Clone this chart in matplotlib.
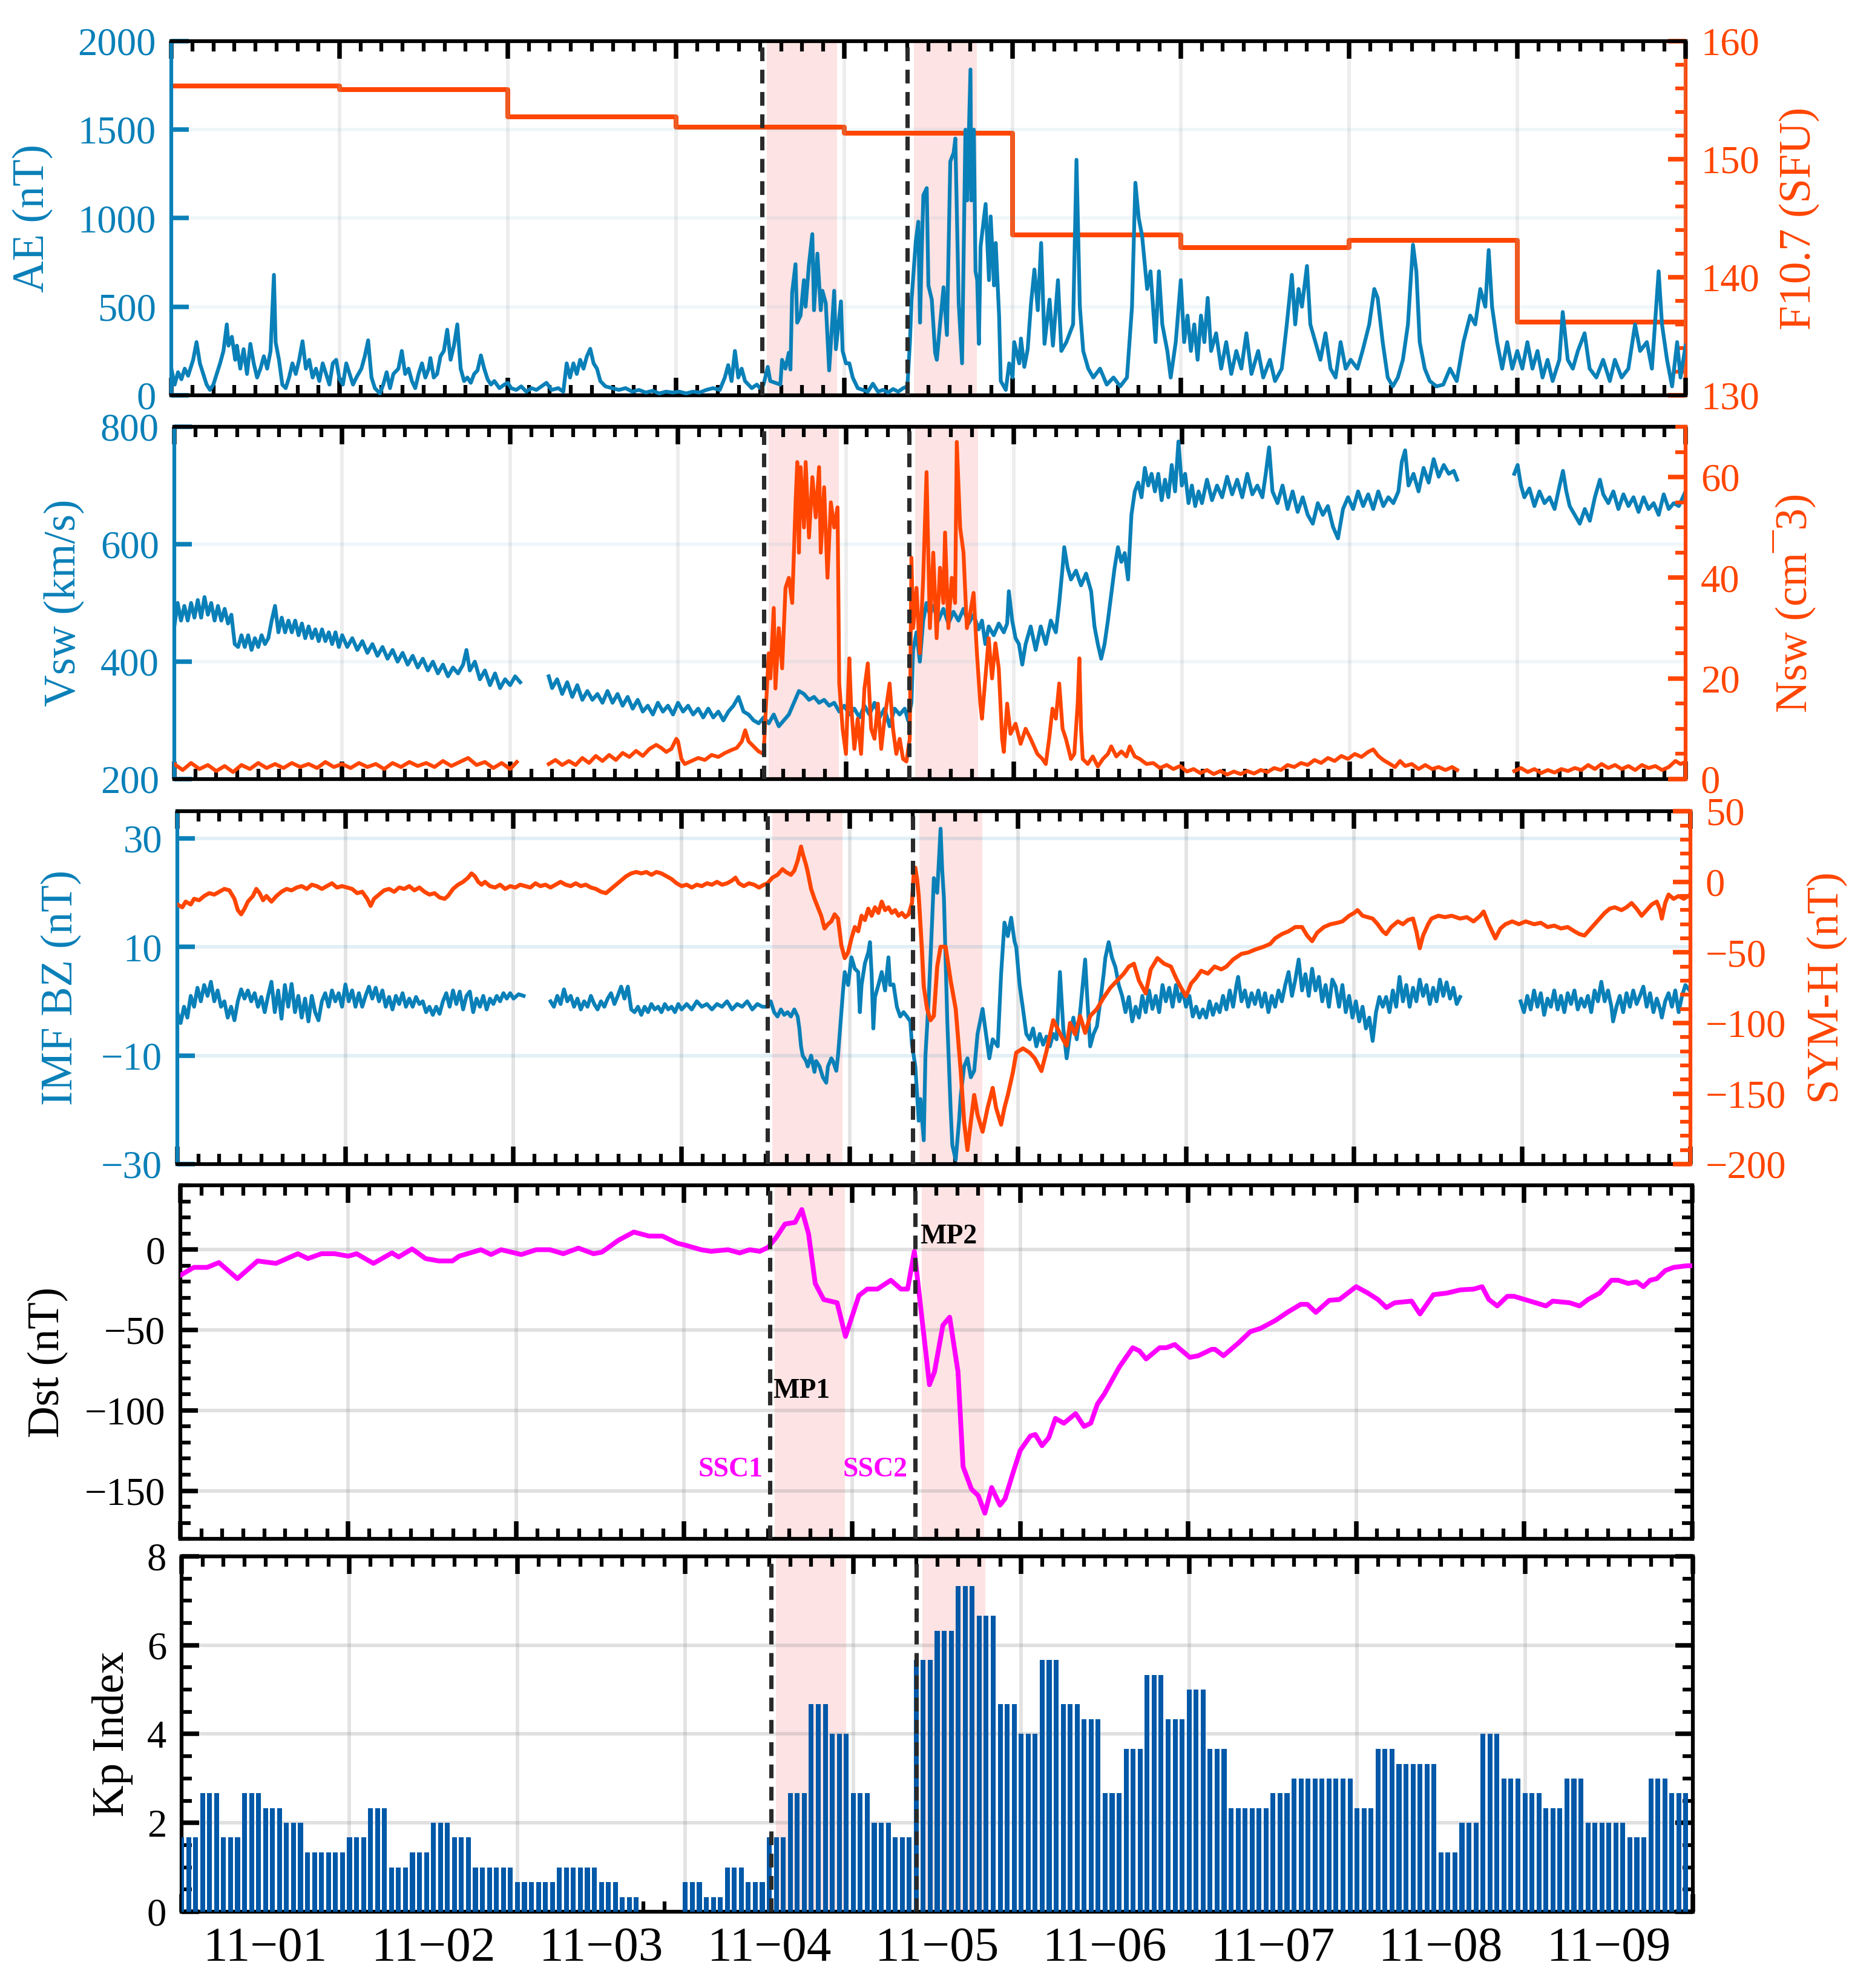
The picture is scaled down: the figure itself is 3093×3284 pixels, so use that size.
import numpy as np
import matplotlib
matplotlib.use('Agg')
import matplotlib.pyplot as plt
import matplotlib.dates as mdates
from matplotlib.ticker import MultipleLocator, FuncFormatter, NullFormatter
from datetime import datetime

NaN = np.nan

# ---------------- data (time in days since 2023-11-01 00:00 UT) ----------------
AE = [(0.00,150),(0.02,60),(0.04,130),(0.06,90),(0.08,150),(0.10,110),(0.13,200),(0.15,300),(0.17,180),
      (0.19,120),(0.21,60),(0.23,30),(0.25,60),(0.27,120),(0.29,180),(0.31,250),(0.33,400),(0.34,280),
      (0.36,330),(0.38,200),(0.39,280),(0.41,150),(0.43,260),(0.45,120),(0.47,290),(0.49,180),(0.51,100),
      (0.53,150),(0.55,220),(0.57,150),(0.59,250),(0.61,680),(0.62,300),(0.64,200),(0.66,60),(0.68,40),
      (0.70,100),(0.72,180),(0.74,120),(0.76,200),(0.78,305),(0.80,150),(0.82,200),(0.84,100),(0.86,150),
      (0.88,80),(0.90,180),(0.92,120),(0.94,60),(0.96,180),(0.98,200),(1.00,90),(1.02,60),(1.04,180),
      (1.06,120),(1.08,60),(1.10,100),(1.13,150),(1.15,220),(1.17,310),(1.19,100),(1.21,40),(1.24,10),
      (1.26,60),(1.28,130),(1.30,40),(1.32,120),(1.35,150),(1.37,250),(1.39,120),(1.41,150),(1.43,80),
      (1.45,40),(1.47,120),(1.49,180),(1.51,100),(1.53,150),(1.54,210),(1.56,100),(1.58,120),(1.60,220),
      (1.62,250),(1.64,370),(1.66,200),(1.68,280),(1.70,400),(1.72,150),(1.74,80),(1.76,100),(1.78,70),
      (1.80,120),(1.82,140),(1.84,225),(1.86,150),(1.88,90),(1.90,60),(1.92,80),(1.95,40),(1.98,60),
      (2.00,70),(2.02,40),(2.05,30),(2.08,50),(2.11,20),(2.14,40),(2.17,30),(2.20,50),(2.23,70),(2.26,30),
      (2.30,40),(2.33,20),(2.35,180),(2.37,100),(2.39,180),(2.41,120),(2.43,200),(2.45,150),(2.47,220),
      (2.49,262),(2.51,180),(2.53,150),(2.55,80),(2.58,50),(2.62,40),(2.66,30),(2.70,40),(2.74,20),
      (2.78,30),(2.82,15),(2.86,25),(2.90,10),(2.94,20),(2.98,15),(3.02,20),(3.06,10),(3.10,20),(3.14,15),
      (3.18,30),(3.22,40),(3.26,30),(3.29,100),(3.31,170),(3.33,80),(3.35,250),(3.37,100),(3.39,150),
      (3.41,80),(3.43,60),(3.45,40),(3.48,60),(3.50,40),(3.52,60),(3.545,160),(3.56,80),(3.59,70),
      (3.62,60),(3.63,200),(3.65,150),(3.67,240),(3.68,145),(3.69,580),(3.71,740),(3.72,410),(3.74,450),
      (3.76,650),(3.77,500),(3.79,740),(3.81,910),(3.82,480),(3.84,800),(3.86,480),(3.87,590),(3.89,520),
      (3.91,140),(3.94,590),(3.95,260),(3.98,530),(3.99,250),(4.01,180),(4.03,180),(4.05,100),(4.08,40),
      (4.11,30),(4.14,20),(4.17,65),(4.20,20),(4.23,30),(4.26,15),(4.29,35),(4.32,20),(4.35,40),
      (4.375,50),(4.39,300),(4.40,540),(4.425,870),(4.44,980),(4.45,410),(4.46,800),(4.47,1130),
      (4.49,1170),(4.50,620),(4.52,540),(4.54,240),(4.55,200),(4.57,410),(4.59,610),(4.61,340),
      (4.63,1320),(4.65,1370),(4.66,1450),(4.68,520),(4.70,180),(4.72,1500),(4.73,1100),(4.75,1840),
      (4.755,1100),(4.77,1500),(4.78,700),(4.79,650),(4.80,290),(4.81,840),(4.84,1080),(4.86,650),
      (4.87,1010),(4.89,620),(4.90,860),(4.92,450),(4.93,80),(4.96,30),(4.98,180),(5.00,100),(5.01,300),
      (5.04,180),(5.05,320),(5.07,160),(5.09,260),(5.11,520),(5.13,710),(5.15,480),(5.17,860),(5.19,290),
      (5.22,540),(5.24,280),(5.27,650),(5.29,250),(5.32,300),(5.36,400),(5.38,1330),(5.40,500),(5.42,250),
      (5.45,150),(5.48,100),(5.52,150),(5.56,60),(5.60,100),(5.64,50),(5.68,100),(5.71,500),(5.73,1200),
      (5.75,1000),(5.77,900),(5.80,600),(5.82,700),(5.85,300),(5.87,700),(5.89,400),(5.92,250),(5.94,100),
      (5.97,300),(6.00,650),(6.02,300),(6.04,450),(6.06,250),(6.08,400),(6.10,200),(6.12,450),(6.14,300),
      (6.16,550),(6.18,250),(6.21,350),(6.24,150),(6.27,300),(6.30,120),(6.33,250),(6.36,150),(6.39,350),
      (6.42,120),(6.46,250),(6.49,100),(6.53,200),(6.56,80),(6.60,150),(6.63,400),(6.66,680),(6.68,400),
      (6.70,600),(6.72,500),(6.75,730),(6.77,400),(6.80,300),(6.83,200),(6.86,350),(6.89,150),(6.92,100),
      (6.95,300),(6.98,150),(7.01,200),(7.05,150),(7.08,250),(7.12,400),(7.15,600),(7.17,550),(7.20,300),
      (7.23,100),(7.26,50),(7.29,100),(7.32,200),(7.35,400),(7.38,850),(7.40,700),(7.42,300),(7.45,150),
      (7.48,80),(7.52,50),(7.56,60),(7.60,150),(7.64,80),(7.68,300),(7.72,450),(7.75,400),(7.78,600),
      (7.81,500),(7.83,820),(7.85,500),(7.88,300),(7.91,150),(7.94,300),(7.97,150),(8.00,250),(8.03,150),
      (8.06,300),(8.09,150),(8.12,250),(8.15,100),(8.18,200),(8.21,80),(8.25,200),(8.27,470),(8.30,200),
      (8.33,150),(8.36,250),(8.40,350),(8.43,150),(8.47,100),(8.51,200),(8.55,80),(8.58,200),(8.62,100),
      (8.66,150),(8.70,400),(8.73,250),(8.77,300),(8.80,150),(8.84,700),(8.86,400),(8.89,200),(8.92,50),
      (8.95,300),(8.97,100),(9.00,280)]

F107_day = [0, 1, 2, 3, 4, 5, 6, 7, 8, 9]
F107_sfu = [156.2, 155.9, 153.6, 152.7, 152.2, 143.6, 142.5, 143.1, 136.2, 136.2]

VSW = [(0.00,460),(0.02,500),(0.04,470),(0.06,495),(0.08,470),(0.10,500),(0.12,475),(0.14,505),(0.16,475),
       (0.18,510),(0.20,480),(0.22,500),(0.24,470),(0.26,495),(0.28,470),(0.30,490),(0.32,465),(0.34,480),
       (0.36,430),(0.38,425),(0.40,445),(0.42,425),(0.44,445),(0.46,420),(0.48,440),(0.50,425),(0.52,445),
       (0.54,430),(0.56,440),(0.58,470),(0.60,495),(0.62,450),(0.64,475),(0.66,450),(0.68,470),(0.70,450),
       (0.72,470),(0.74,445),(0.76,465),(0.78,440),(0.80,460),(0.82,440),(0.84,455),(0.86,435),(0.88,455),
       (0.90,435),(0.92,450),(0.94,430),(0.96,450),(0.98,425),(1.00,445),(1.03,425),(1.06,440),(1.09,420),
       (1.12,435),(1.15,415),(1.18,430),(1.21,410),(1.24,425),(1.27,405),(1.30,420),(1.33,400),(1.36,415),
       (1.39,395),(1.42,410),(1.45,390),(1.48,405),(1.51,385),(1.54,400),(1.57,380),(1.60,395),(1.63,375),
       (1.66,390),(1.69,380),(1.72,395),(1.74,420),(1.76,385),(1.79,400),(1.82,370),(1.85,385),(1.88,360),
       (1.91,380),(1.94,355),(1.97,370),(2.00,360),(2.03,375),(2.06,365),(2.07,NaN),(2.23,375),(2.25,355),
       (2.28,370),(2.31,345),(2.34,365),(2.37,340),(2.40,360),(2.43,335),(2.46,350),(2.49,335),(2.52,345),
       (2.55,330),(2.58,350),(2.61,330),(2.64,345),(2.67,325),(2.70,340),(2.73,320),(2.76,335),(2.79,315),
       (2.82,325),(2.85,310),(2.88,330),(2.91,315),(2.94,325),(2.97,310),(3.00,330),(3.03,315),(3.06,325),
       (3.09,310),(3.12,320),(3.15,305),(3.18,320),(3.21,305),(3.24,315),(3.27,300),(3.30,315),(3.33,325),
       (3.36,340),(3.39,315),(3.42,310),(3.45,300),(3.48,295),(3.51,305),(3.54,295),(3.57,310),(3.60,290),
       (3.63,300),(3.66,310),(3.69,330),(3.72,350),(3.75,345),(3.78,335),(3.81,340),(3.84,330),(3.87,335),
       (3.90,325),(3.93,330),(3.96,315),(3.99,325),(4.02,310),(4.05,320),(4.08,305),(4.11,325),(4.14,310),
       (4.17,330),(4.20,305),(4.23,320),(4.26,290),(4.29,320),(4.32,310),(4.35,320),(4.37,300),(4.39,330),
       (4.40,420),(4.42,450),(4.44,400),(4.46,470),(4.48,500),(4.50,480),(4.52,495),(4.55,470),(4.58,490),
       (4.61,465),(4.64,485),(4.67,470),(4.70,490),(4.73,465),(4.76,480),(4.79,455),(4.81,470),(4.83,430),
       (4.85,460),(4.88,445),(4.91,465),(4.94,450),(4.96,465),(4.97,520),(4.99,470),(5.01,440),(5.03,430),
       (5.05,395),(5.07,430),(5.10,460),(5.13,420),(5.16,460),(5.19,430),(5.22,470),(5.25,450),(5.27,500),
       (5.29,560),(5.30,595),(5.32,560),(5.34,540),(5.37,555),(5.40,530),(5.43,550),(5.46,520),(5.48,460),
       (5.50,430),(5.52,405),(5.54,430),(5.56,470),(5.58,515),(5.60,560),(5.62,595),(5.64,570),(5.66,585),
       (5.68,540),(5.70,650),(5.72,690),(5.74,705),(5.76,680),(5.78,730),(5.80,700),(5.82,720),(5.84,690),
       (5.86,720),(5.88,675),(5.90,710),(5.92,680),(5.94,735),(5.96,690),(5.98,775),(6.00,700),(6.02,720),
       (6.04,670),(6.06,700),(6.08,665),(6.10,690),(6.12,670),(6.15,710),(6.18,675),(6.21,700),(6.24,680),
       (6.27,715),(6.30,685),(6.33,710),(6.36,680),(6.39,720),(6.42,685),(6.45,700),(6.48,680),(6.50,720),
       (6.52,765),(6.54,690),(6.57,670),(6.60,700),(6.63,660),(6.66,690),(6.69,655),(6.72,680),(6.75,650),
       (6.78,635),(6.81,670),(6.84,650),(6.87,665),(6.90,630),(6.93,610),(6.96,660),(6.99,680),(7.02,660),
       (7.05,690),(7.08,665),(7.11,685),(7.14,660),(7.17,690),(7.20,665),(7.23,680),(7.26,670),(7.29,690),
       (7.31,740),(7.33,760),(7.35,700),(7.38,720),(7.41,690),(7.44,730),(7.47,705),(7.50,745),(7.53,715),
       (7.56,735),(7.59,720),(7.62,725),(7.64,710),(7.65,NaN),(7.98,720),(8.00,735),(8.02,700),(8.04,680),
       (8.07,695),(8.10,665),(8.13,690),(8.16,670),(8.19,680),(8.22,660),(8.25,700),(8.27,725),(8.29,690),
       (8.31,665),(8.34,650),(8.37,635),(8.40,660),(8.43,640),(8.46,680),(8.49,710),(8.51,685),(8.54,670),
       (8.57,690),(8.60,660),(8.63,685),(8.66,665),(8.69,680),(8.72,655),(8.75,680),(8.78,660),(8.81,670),
       (8.84,650),(8.87,685),(8.90,660),(8.93,670),(8.96,665),(9.00,690)]

NSW = [(0.00,3.0),(0.05,1.8),(0.10,3.2),(0.15,2.0),(0.20,2.8),(0.25,1.6),(0.30,2.6),(0.35,1.4),(0.40,2.8),
       (0.45,2.0),(0.50,3.2),(0.55,2.2),(0.60,3.0),(0.65,2.2),(0.70,3.2),(0.75,2.4),(0.80,3.0),(0.85,2.2),
       (0.90,3.4),(0.95,2.4),(1.00,3.0),(1.05,2.2),(1.10,3.2),(1.15,2.4),(1.20,3.0),(1.25,2.0),(1.30,3.2),
       (1.35,2.4),(1.40,3.4),(1.45,2.6),(1.50,3.2),(1.55,2.4),(1.60,3.6),(1.65,2.6),(1.70,3.4),(1.75,4.2),
       (1.80,2.8),(1.85,3.4),(1.90,2.2),(1.95,3.2),(2.00,2.0),(2.04,3.4),(2.07,NaN),(2.23,3.0),(2.27,3.8),
       (2.31,2.8),(2.35,3.6),(2.39,2.8),(2.43,4.2),(2.47,3.2),(2.51,4.6),(2.55,3.6),(2.59,4.8),(2.63,3.8),
       (2.67,5.2),(2.71,4.4),(2.75,5.6),(2.79,4.6),(2.83,6.0),(2.87,6.8),(2.90,6.2),(2.93,5.4),(2.96,6.0),
       (2.99,8.0),(3.00,7.5),(3.02,4.0),(3.04,3.0),(3.08,3.6),(3.12,4.2),(3.16,3.8),(3.20,4.8),(3.24,4.4),
       (3.28,5.2),(3.32,5.8),(3.35,6.2),(3.38,7.5),(3.40,9.7),(3.42,7.5),(3.45,6.5),(3.48,5.5),(3.51,5.0),
       (3.52,12),(3.54,25),(3.55,20),(3.57,34),(3.58,18),(3.60,30),(3.62,22),(3.64,38),(3.66,40),(3.68,35),
       (3.70,55),(3.71,63),(3.72,45),(3.73,62),(3.75,50),(3.76,63),(3.78,48),(3.80,60),(3.82,52),(3.84,62),
       (3.85,45),(3.87,58),(3.89,40),(3.91,55),(3.93,50),(3.95,54),(3.96,19),(3.98,10),(4.00,5),(4.02,24),
       (4.03,15),(4.05,6),(4.07,12),(4.09,5),(4.11,18),(4.13,23),(4.15,10),(4.17,8),(4.19,15),(4.21,6),
       (4.23,12),(4.26,19),(4.28,10),(4.30,5),(4.32,8),(4.34,4),(4.36,3.5),(4.38,8),(4.39,44),(4.40,30),
       (4.42,38),(4.44,25),(4.46,40),(4.48,61),(4.50,30),(4.52,45),(4.54,28),(4.56,42),(4.58,35),(4.59,49),
       (4.61,30),(4.63,40),(4.65,35),(4.66,67),(4.68,50),(4.70,45),(4.72,30),(4.74,33),(4.76,37),(4.78,25),
       (4.80,15),(4.81,12),(4.83,20),(4.85,28),(4.87,20),(4.89,27),(4.91,22),(4.93,8),(4.94,5.4),(4.96,15),
       (4.98,9),(5.01,11),(5.04,7),(5.07,10),(5.10,8),(5.14,5),(5.17,4),(5.19,3),(5.21,8),(5.23,14),
       (5.25,12),(5.27,19),(5.29,10),(5.31,8),(5.34,4),(5.36,5),(5.38,15),(5.39,24),(5.40,10),(5.41,4),
       (5.44,3),(5.47,4.5),(5.50,2.5),(5.53,4),(5.56,5),(5.58,6.5),(5.61,4.5),(5.64,5.5),(5.67,4.5),
       (5.69,6.5),(5.72,4.5),(5.75,4.0),(5.79,3.0),(5.83,3.2),(5.87,2.2),(5.91,2.8),(5.95,2.0),(5.99,2.6),
       (6.03,1.5),(6.07,2.0),(6.11,1.2),(6.15,1.8),(6.19,1.0),(6.23,1.6),(6.27,0.9),(6.31,1.5),(6.35,1.0),
       (6.39,1.6),(6.43,1.1),(6.47,1.8),(6.51,1.4),(6.55,2.2),(6.59,1.8),(6.63,2.8),(6.67,2.4),(6.71,3.2),
       (6.75,2.8),(6.79,3.8),(6.83,3.2),(6.87,4.2),(6.91,3.6),(6.95,4.6),(6.99,4.0),(7.03,5.0),(7.07,4.4),
       (7.11,5.4),(7.14,5.9),(7.17,4.6),(7.20,3.8),(7.24,3.0),(7.27,2.4),(7.30,3.6),(7.33,2.6),(7.37,3.0),
       (7.41,2.0),(7.45,2.8),(7.49,2.0),(7.53,2.4),(7.57,1.8),(7.61,2.4),(7.64,1.8),(7.65,NaN),(7.98,1.6),
       (8.02,2.2),(8.06,1.4),(8.10,2.0),(8.14,1.2),(8.18,1.8),(8.22,1.3),(8.26,2.0),(8.30,1.6),(8.34,2.2),
       (8.38,1.8),(8.42,2.8),(8.46,2.0),(8.50,3.0),(8.54,2.2),(8.58,2.8),(8.62,2.0),(8.66,2.6),(8.70,1.8),
       (8.74,2.8),(8.78,2.2),(8.82,2.6),(8.86,1.8),(8.90,2.4),(8.94,3.6),(8.97,3.0),(9.00,3.4)]

BZ = [(0.00,-2),(0.02,-4),(0.04,-1),(0.06,-3),(0.08,1),(0.10,-1),(0.12,2.5),(0.14,0),(0.16,3),(0.18,1),
      (0.20,3.6),(0.22,0),(0.24,2),(0.26,-1),(0.28,0),(0.30,-3),(0.32,-1),(0.34,-3.5),(0.36,0),(0.38,2.2),
      (0.40,0.5),(0.42,2),(0.44,0),(0.46,1.5),(0.48,-1),(0.50,0.8),(0.52,-2),(0.54,1),(0.56,3.6),(0.58,-2),
      (0.60,2),(0.62,-3.2),(0.64,3),(0.66,-1),(0.68,3.2),(0.70,-2),(0.72,1),(0.74,-3),(0.76,0.5),(0.78,-3.7),
      (0.80,1),(0.82,-2),(0.84,-3.5),(0.86,0),(0.88,1.5),(0.90,-1),(0.92,2),(0.94,0),(0.96,1.5),(0.98,-1),
      (1.00,3.1),(1.02,0),(1.04,2),(1.06,-1),(1.08,1.5),(1.10,-1),(1.12,1),(1.14,2.7),(1.16,0.5),(1.18,2.5),
      (1.20,0),(1.22,2),(1.24,-1),(1.26,0.8),(1.28,-1.5),(1.30,1),(1.32,-0.5),(1.34,1.5),(1.36,-1),(1.38,0.5),
      (1.40,-1),(1.42,0.8),(1.44,-0.5),(1.46,0),(1.48,-2),(1.50,-1),(1.52,-2.5),(1.54,-1),(1.56,-2.3),
      (1.58,0),(1.60,1.5),(1.62,-1),(1.64,2),(1.66,-0.5),(1.68,1.8),(1.70,-1.5),(1.72,1),(1.74,1.8),
      (1.76,-2),(1.78,0.5),(1.80,-1),(1.82,1),(1.84,-1.5),(1.86,0.5),(1.88,-0.5),(1.90,1),(1.92,0),
      (1.94,1.5),(1.96,0.5),(1.98,1.5),(2.00,0.5),(2.03,1.3),(2.06,1.0),(2.07,NaN),(2.22,0),(2.24,-1),
      (2.26,1),(2.28,-0.5),(2.30,2.2),(2.32,0),(2.34,1),(2.36,-1),(2.38,0.5),(2.40,-1.5),(2.42,0),(2.44,-1),
      (2.46,1),(2.48,-0.5),(2.50,-1.5),(2.52,0),(2.54,-1),(2.56,0.5),(2.58,1.5),(2.60,-0.5),(2.62,1),
      (2.64,2.7),(2.66,0.5),(2.68,2.7),(2.70,-1.5),(2.72,-2),(2.74,-1),(2.76,-2.5),(2.78,-1),(2.80,-2),
      (2.82,-0.5),(2.84,-1.5),(2.86,-1),(2.88,-2),(2.90,-0.5),(2.92,-1.5),(2.94,-1),(2.96,-2),(2.98,-0.5),
      (3.00,-1.5),(3.03,-0.5),(3.06,-1.5),(3.09,0),(3.12,-1),(3.15,-0.5),(3.18,-1.5),(3.21,-0.5),(3.24,-1),
      (3.27,0),(3.30,-1.5),(3.33,-0.5),(3.36,-1),(3.39,0),(3.42,-1.5),(3.45,-0.5),(3.48,-1),(3.51,-1),
      (3.53,0),(3.55,-2),(3.57,-2.8),(3.59,-1.5),(3.61,-2.5),(3.63,-2),(3.65,-2.8),(3.67,-1.5),(3.69,-2.8),
      (3.70,-5),(3.71,-8.3),(3.72,-10),(3.74,-11),(3.75,-12),(3.77,-10),(3.79,-13),(3.80,-11),(3.82,-12),
      (3.84,-14),(3.86,-15),(3.87,-12),(3.89,-10.5),(3.90,-11),(3.92,-12.8),(3.93,-10),(3.94,-6),(3.96,2),
      (3.97,5.4),(3.99,3),(4.01,8.1),(4.03,6),(4.05,5.4),(4.06,-2),(4.07,3),(4.09,7),(4.11,9),(4.12,10.9),
      (4.13,5),(4.14,-5),(4.15,0.8),(4.17,3),(4.19,5.4),(4.21,2),(4.23,8.1),(4.24,3),(4.26,3.1),(4.28,-1),
      (4.30,-2.8),(4.32,-2),(4.34,-2.8),(4.36,-3.7),(4.37,-8),(4.39,-12),(4.41,-22),(4.42,-18),(4.44,-25.6),
      (4.45,-10),(4.47,0.8),(4.49,15),(4.50,22.7),(4.52,20),(4.54,31.8),(4.55,24),(4.56,19),(4.58,-3.7),
      (4.60,-20),(4.61,-26.5),(4.63,-29.2),(4.65,-22),(4.66,-17.4),(4.68,-12),(4.70,-10.5),(4.72,-14),
      (4.74,-12.8),(4.76,-6),(4.79,-1.4),(4.81,-6),(4.83,-10.5),(4.85,-7),(4.88,-8.3),(4.90,5),(4.92,14.5),
      (4.94,12),(4.96,15.4),(4.98,11),(4.99,10),(5.01,3),(5.03,-1.4),(5.05,-6),(5.07,-7),(5.09,-5),
      (5.11,-8.3),(5.13,-6),(5.15,-8),(5.17,-6.5),(5.19,-8.3),(5.21,-6),(5.23,-7),(5.25,5.4),(5.27,-5),
      (5.29,-10.5),(5.31,-6),(5.33,-3),(5.35,-7),(5.37,-2),(5.40,7.7),(5.41,2),(5.43,-8.3),(5.45,-6),
      (5.47,-4.6),(5.49,0),(5.51,5),(5.52,8),(5.54,10.9),(5.56,8),(5.58,6.3),(5.60,3),(5.62,1),(5.64,-2),
      (5.66,0.8),(5.68,-3.7),(5.70,-1),(5.72,-3),(5.74,1),(5.76,-2),(5.78,2),(5.80,-1.4),(5.82,1),(5.84,-2),
      (5.86,3),(5.88,0),(5.90,2.5),(5.92,-1),(5.94,3),(5.96,0),(5.98,2),(6.00,-1),(6.02,1),(6.04,-2.8),
      (6.06,-1),(6.08,-3),(6.10,-1.5),(6.12,-3),(6.14,0),(6.16,-2.5),(6.18,-0.5),(6.20,-2),(6.22,1),
      (6.24,-1.5),(6.26,2),(6.28,-1),(6.30,3),(6.31,4.5),(6.33,0),(6.35,2),(6.37,-1),(6.39,1.5),(6.41,-0.5),
      (6.43,2),(6.45,-1),(6.47,1.5),(6.49,-2),(6.51,1),(6.53,-1),(6.55,2),(6.57,0),(6.59,3),(6.61,5.4),
      (6.63,1),(6.65,4),(6.67,7.7),(6.69,2),(6.71,5),(6.73,1),(6.75,6),(6.77,2),(6.79,4.5),(6.81,0),
      (6.83,3),(6.85,-1),(6.87,4),(6.89,2.7),(6.91,-1),(6.93,3),(6.95,-2),(6.97,1),(6.99,-3),(7.01,0),
      (7.03,-3.7),(7.05,-1),(7.07,-5),(7.09,-3),(7.11,-7.3),(7.13,-2),(7.15,0.8),(7.17,-1),(7.19,0.8),
      (7.21,-2),(7.23,2),(7.25,-1),(7.27,4.5),(7.29,0),(7.31,3),(7.33,-1),(7.35,2.5),(7.37,0),(7.39,4),
      (7.41,1),(7.43,3),(7.45,-0.5),(7.47,2.5),(7.49,0),(7.51,4),(7.53,1),(7.55,3.5),(7.57,0.5),(7.59,2.5),
      (7.61,-0.5),(7.63,0.8),(7.64,NaN),(7.99,0),(8.01,-2),(8.03,1),(8.05,-1.5),(8.07,2),(8.09,-1),
      (8.11,1.5),(8.13,-2.5),(8.15,0.5),(8.17,-1),(8.19,2),(8.21,-1.5),(8.23,1),(8.25,-2),(8.27,1.5),
      (8.29,-0.5),(8.31,2),(8.33,-1.5),(8.35,0.5),(8.37,-1),(8.39,1),(8.41,-2),(8.43,2),(8.45,0),(8.47,3.6),
      (8.49,0),(8.51,2),(8.53,-1),(8.54,-3.7),(8.56,-1),(8.58,1),(8.60,-2),(8.62,1.5),(8.64,-1),(8.66,2),
      (8.68,-0.5),(8.70,1),(8.72,2.7),(8.74,-1),(8.76,1.5),(8.78,-2),(8.80,0.5),(8.82,-1.5),(8.83,-3),
      (8.85,0),(8.87,1.5),(8.89,-1),(8.91,2),(8.93,-2),(8.95,1),(8.97,3),(9.00,1.8)]

SYMH = [(0.00,-16),(0.03,-18),(0.05,-14),(0.08,-16),(0.10,-12),(0.13,-13),(0.16,-10),(0.19,-8),(0.22,-9),
        (0.25,-7),(0.28,-5),(0.31,-6),(0.34,-12),(0.36,-20),(0.38,-23),(0.40,-19),(0.42,-14),(0.45,-10),
        (0.47,-5),(0.49,-8),(0.51,-13),(0.53,-10),(0.56,-14),(0.59,-10),(0.62,-7),(0.65,-5),(0.68,-6),
        (0.71,-4),(0.74,-3),(0.77,-5),(0.80,-2),(0.83,-3),(0.86,-5),(0.89,-3),(0.92,-1),(0.95,-4),(0.98,-3),
        (1.01,-4),(1.04,-5),(1.07,-8),(1.10,-7),(1.13,-12),(1.15,-17),(1.17,-12),(1.20,-9),(1.23,-6),
        (1.26,-5),(1.29,-7),(1.32,-4),(1.35,-5),(1.38,-3),(1.41,-6),(1.44,-4),(1.47,-7),(1.50,-9),(1.53,-8),
        (1.56,-11),(1.59,-12),(1.61,-10),(1.64,-5),(1.67,-2),(1.70,0),(1.73,3),(1.75,6),(1.77,4),(1.79,0),
        (1.81,-2),(1.83,0),(1.86,-3),(1.89,-4),(1.92,-2),(1.95,-5),(1.98,-3),(2.01,-4),(2.04,-2),(2.07,-3),
        (2.10,-4),(2.13,-1),(2.16,-3),(2.19,-2),(2.22,-4),(2.25,-2),(2.28,0),(2.31,-2),(2.34,-3),(2.37,-1),
        (2.40,-3),(2.43,-2),(2.46,-4),(2.49,-5),(2.52,-7),(2.55,-8),(2.58,-5),(2.61,-2),(2.64,1),(2.67,4),
        (2.70,6),(2.73,7),(2.76,6),(2.79,7),(2.82,5),(2.85,7),(2.88,6),(2.91,4),(2.94,2),(2.97,-1),(3.00,-3),
        (3.03,-2),(3.06,-4),(3.09,-2),(3.12,-3),(3.15,-1),(3.18,-2),(3.21,0),(3.24,-2),(3.27,-1),(3.30,1),
        (3.32,3),(3.34,-1),(3.37,-3),(3.40,-1),(3.43,-2),(3.46,-4),(3.49,-2),(3.51,-1),(3.54,3),(3.57,5),
        (3.60,9),(3.62,7),(3.65,5),(3.67,8),(3.69,15),(3.71,25),(3.72,20),(3.74,12),(3.75,7),(3.77,-5),
        (3.79,-12),(3.81,-18),(3.83,-24),(3.85,-33),(3.87,-30),(3.89,-28),(3.91,-23),(3.93,-26),(3.95,-45),
        (3.97,-54),(3.99,-50),(4.01,-40),(4.03,-32),(4.05,-35),(4.07,-24),(4.09,-27),(4.11,-19),(4.13,-24),
        (4.15,-18),(4.17,-22),(4.19,-14),(4.21,-20),(4.23,-18),(4.25,-22),(4.27,-20),(4.29,-24),(4.31,-22),
        (4.33,-25),(4.35,-23),(4.37,-15),(4.38,5),(4.39,10),(4.40,2),(4.41,-10),(4.43,-50),(4.44,-74),
        (4.46,-90),(4.48,-98),(4.50,-95),(4.52,-60),(4.54,-46),(4.57,-46),(4.60,-70),(4.63,-90),(4.66,-134),
        (4.68,-170),(4.70,-190),(4.72,-170),(4.74,-151),(4.76,-165),(4.79,-177),(4.82,-160),(4.85,-146),
        (4.87,-160),(4.90,-172),(4.92,-160),(4.94,-151),(4.97,-135),(4.99,-121),(5.03,-118),(5.07,-121),
        (5.10,-125),(5.14,-134),(5.17,-120),(5.21,-98),(5.24,-105),(5.27,-112),(5.29,-116),(5.31,-100),
        (5.34,-108),(5.37,-95),(5.40,-107),(5.43,-95),(5.47,-90),(5.51,-82),(5.55,-75),(5.59,-70),(5.63,-65),
        (5.66,-60),(5.69,-58),(5.72,-70),(5.76,-79),(5.79,-62),(5.83,-54),(5.87,-58),(5.91,-60),(5.94,-68),
        (5.97,-75),(6.00,-81),(6.03,-72),(6.06,-68),(6.09,-63),(6.13,-65),(6.17,-60),(6.21,-62),(6.24,-60),
        (6.28,-55),(6.33,-51),(6.37,-50),(6.41,-48),(6.46,-46),(6.50,-44),(6.53,-40),(6.57,-37),(6.61,-35),
        (6.65,-32),(6.69,-32),(6.72,-38),(6.75,-42),(6.78,-36),(6.82,-32),(6.86,-30),(6.90,-29),(6.93,-28),
        (6.97,-24),(7.00,-22),(7.02,-20),(7.05,-24),(7.08,-25),(7.11,-26),(7.14,-30),(7.17,-35),(7.19,-37),
        (7.22,-32),(7.26,-28),(7.29,-30),(7.32,-27),(7.35,-26),(7.37,-35),(7.39,-47),(7.41,-38),(7.44,-30),
        (7.46,-26),(7.50,-24),(7.54,-25),(7.58,-24),(7.63,-26),(7.67,-25),(7.71,-28),(7.75,-24),(7.77,-21),
        (7.80,-30),(7.84,-40),(7.87,-33),(7.90,-30),(7.94,-28),(7.98,-30),(8.02,-28),(8.07,-30),(8.11,-29),
        (8.15,-32),(8.19,-31),(8.23,-33),(8.27,-32),(8.31,-35),(8.34,-37),(8.37,-38),(8.40,-34),(8.43,-30),
        (8.46,-26),(8.49,-22),(8.52,-19),(8.55,-18),(8.59,-20),(8.62,-18),(8.65,-15),(8.68,-19),(8.71,-24),
        (8.74,-20),(8.77,-16),(8.80,-14),(8.82,-20),(8.83,-26),(8.85,-15),(8.87,-9),(8.90,-12),(8.93,-10),
        (8.96,-12),(9.00,-9)]

DST = [(0.00,-16),(0.08,-11),(0.16,-11),(0.23,-8),(0.34,-18),(0.46,-7),(0.57,-8.5),(0.70,-2.5),(0.76,-5.5),
       (0.84,-2.5),(0.92,-2.5),(1.00,-4),(1.05,-2.5),(1.15,-8.5),(1.26,-2),(1.30,-4.5),(1.38,0.5),(1.46,-5.5),
       (1.54,-7),(1.62,-7),(1.66,-4),(1.79,0),(1.85,-3),(1.91,0),(2.03,-3),(2.12,0),(2.20,0),(2.28,-2.5),
       (2.37,1),(2.46,-2.5),(2.51,-1.5),(2.61,6),(2.70,11),(2.79,8.5),(2.87,8.5),(2.96,4),(3.00,3),(3.10,0),
       (3.16,-1),(3.26,0),(3.33,-2),(3.39,0),(3.45,-1),(3.50,1.5),(3.55,8),(3.60,16),(3.66,17),(3.70,25),
       (3.74,10),(3.78,-21),(3.83,-31),(3.87,-32),(3.91,-33),(3.96,-54),(4.04,-28.5),(4.09,-24.5),(4.15,-24.5),
       (4.23,-19),(4.29,-24.5),(4.33,-24.5),(4.37,-1),(4.46,-84),(4.49,-76),(4.54,-47),(4.58,-42),(4.63,-76),
       (4.66,-135),(4.71,-149),(4.75,-153),(4.79,-164),(4.83,-148),(4.88,-159),(4.91,-155),(4.96,-138),
       (5.00,-125),(5.06,-116),(5.09,-115),(5.13,-122),(5.17,-117),(5.21,-105),(5.26,-108),(5.33,-102),
       (5.38,-110),(5.42,-108),(5.46,-96),(5.50,-90),(5.59,-73),(5.67,-61),(5.71,-63),(5.75,-68),(5.83,-61),
       (5.87,-61),(5.92,-59),(6.01,-67),(6.06,-66),(6.14,-62),(6.16,-62),(6.21,-66),(6.30,-58),(6.37,-51),
       (6.43,-49),(6.52,-44),(6.59,-39),(6.67,-34),(6.71,-34),(6.76,-39),(6.84,-31.5),(6.90,-31),(7.00,-23),
       (7.07,-27),(7.13,-31),(7.18,-36),(7.23,-33),(7.33,-32),(7.38,-40),(7.46,-28),(7.54,-27),(7.62,-25),
       (7.70,-24.5),(7.75,-23),(7.79,-31),(7.84,-35),(7.90,-29),(7.94,-29),(8.02,-31.5),(8.13,-35),(8.17,-32),
       (8.27,-33),(8.33,-35),(8.38,-31),(8.45,-27),(8.52,-19),(8.56,-19),(8.62,-21),(8.67,-20),(8.71,-23),
       (8.75,-19),(8.79,-18),(8.84,-13),(8.89,-11),(8.97,-10),(9.00,-10)]

# Kp, 3-hourly (72 values, 2023-11-01 00 UT .. 2023-11-09 21 UT)
KP = [1.67, 2.67, 1.67, 2.67, 2.33, 2.0, 1.33, 1.33,
      1.67, 2.33, 1.0, 1.33, 2.0, 1.67, 1.0, 1.0,
      0.67, 0.67, 1.0, 1.0, 0.67, 0.33, 0.0, 0.0,
      0.67, 0.33, 1.0, 0.67, 1.67, 2.67, 4.67, 4.0,
      2.67, 2.0, 1.67, 5.67, 6.33, 7.33, 6.67, 4.67,
      4.0, 5.67, 4.67, 4.33, 2.67, 3.67, 5.33, 4.33,
      5.0, 3.67, 2.33, 2.33, 2.67, 3.0, 3.0, 3.0,
      2.33, 3.67, 3.33, 3.33, 1.33, 2.0, 4.0, 3.0,
      2.67, 2.33, 3.0, 2.0, 2.0, 1.67, 3.0, 2.67]

SSC_days = [3.51, 4.375]                     # sudden commencements (dashed lines)
MP_spans = [(3.538, 3.958), (4.413, 4.787)]  # main phases (shaded)

# ---------------- style ----------------
BLUE = '#0A80B8'
RED = '#FF4500'
KPBLUE = '#0058A8'
MAG = '#FF00FF'
SHADE = '#FDE3E3'

plt.rcParams['font.family'] = ['Liberation Serif', 'DejaVu Serif']
plt.rcParams['axes.unicode_minus'] = True

T0 = mdates.date2num(datetime(2023, 11, 1))
def tt(d):
    return T0 + np.asarray(d, dtype=float)

def split(pairs):
    a = np.array(pairs, dtype=float)
    return a[:, 0], a[:, 1]

W, H = 3093, 3284
fig = plt.figure(figsize=(W / 300, H / 300), dpi=300)
fig.patch.set_facecolor('white')

positions = [(0.0915, 0.8012, 0.8089, 0.1781),
             (0.0931, 0.6081, 0.8073, 0.1772),
             (0.0947, 0.4144, 0.8083, 0.1775),
             (0.0963, 0.2259, 0.8076, 0.1778),
             (0.0970, 0.0384, 0.8073, 0.1787)]
axs = [fig.add_axes(p) for p in positions]

SPW = 1.5
TICK_FS = 15.5
LAB_FS = 17.5


def label_fmt(x, pos):
    frac = x - np.floor(x)
    if abs(frac - 0.5) < 1e-3:
        d = mdates.num2date(np.floor(x))
        return d.strftime('%m') + '\u2212' + d.strftime('%d')
    return ''


def style_x(ax, labels=False, grid_alpha=0.35):
    ax.set_xlim(tt(0), tt(9))
    ax.xaxis.set_major_locator(mdates.DayLocator())
    ax.xaxis.set_minor_locator(mdates.HourLocator(byhour=[3, 6, 9, 12, 15, 18, 21]))
    ax.xaxis.set_major_formatter(NullFormatter())
    if labels:
        ax.xaxis.set_minor_formatter(FuncFormatter(label_fmt))
    else:
        ax.xaxis.set_minor_formatter(NullFormatter())
    ax.tick_params(axis='x', which='both', direction='in', top=True, bottom=True,
                   color='black', labelsize=19.5, pad=6)
    ax.tick_params(axis='x', which='major', length=7, width=1.8)
    ax.tick_params(axis='x', which='minor', length=4, width=1.5)
    ax.grid(True, axis='x', which='major', color='#b0b0b0', lw=1.4, alpha=grid_alpha)
    for s in ('top', 'bottom'):
        ax.spines[s].set_color('black')
        ax.spines[s].set_linewidth(SPW)


def style_y(ax, color, side, major, minor=None):
    ax.yaxis.set_major_locator(MultipleLocator(major))
    if minor:
        ax.yaxis.set_minor_locator(MultipleLocator(minor))
    ax.tick_params(axis='y', which='both', direction='in', colors=color,
                   labelsize=TICK_FS, pad=6)
    ax.tick_params(axis='y', which='major', length=7, width=1.8)
    ax.tick_params(axis='y', which='minor', length=4, width=1.5)
    ax.spines[side].set_color(color)
    ax.spines[side].set_linewidth(SPW)


def shade(ax):
    for a, b in MP_spans:
        ax.axvspan(tt(a), tt(b), color=SHADE, lw=0, zorder=0.5)


def ssc(ax):
    for d in SSC_days:
        ax.axvline(tt(d), color='#2a2a2a', lw=1.7, ls=(0, (3.2, 2.0)), zorder=5)


def twin(ax):
    tw = ax.twinx()
    for s in ('left', 'top', 'bottom'):
        tw.spines[s].set_visible(False)
    ax.spines['right'].set_visible(False)
    return tw

# ---- Panel 1: AE and F10.7 ----
ax = axs[0]
tw = twin(ax)
style_x(ax, grid_alpha=0.22)
ax.set_zorder(tw.get_zorder() + 1)
ax.patch.set_visible(False)
shade(tw)
t, v = split(AE)
ax.plot(tt(t), v, color=BLUE, lw=1.5, zorder=3)
tw.step(tt(F107_day), F107_sfu, where='post', color=RED, lw=1.9, zorder=2)
ssc(ax)
ax.set_ylim(0, 2000)
tw.set_ylim(130, 160)
style_y(ax, BLUE, 'left', 500)
style_y(tw, RED, 'right', 10, 2)
ax.grid(True, axis='y', which='major', color=BLUE, lw=1.4, alpha=0.06)
ax.set_ylabel('AE (nT)', color=BLUE, fontsize=LAB_FS)
tw.set_ylabel('F10.7 (SFU)', color=RED, fontsize=LAB_FS)
ax.yaxis.set_label_coords(-0.078, 0.5)
tw.yaxis.set_label_coords(1.062, 0.5)

# ---- Panel 2: Vsw and Nsw ----
ax = axs[1]
tw = twin(ax)
style_x(ax, grid_alpha=0.22)
shade(ax)
t, v = split(VSW)
ax.plot(tt(t), v, color=BLUE, lw=1.5, zorder=3)
t, v = split(NSW)
tw.plot(tt(t), v, color=RED, lw=1.5, zorder=3)
ssc(tw)
ax.set_ylim(200, 800)
tw.set_ylim(0, 70)
style_y(ax, BLUE, 'left', 200)
style_y(tw, RED, 'right', 20, 5)
ax.grid(True, axis='y', which='major', color=BLUE, lw=1.4, alpha=0.06)
ax.set_ylabel('Vsw (km/s)', color=BLUE, fontsize=LAB_FS)
tw.set_ylabel('Nsw (cm\u00af3)', color=RED, fontsize=LAB_FS)
ax.yaxis.set_label_coords(-0.059, 0.5)
tw.yaxis.set_label_coords(1.058, 0.5)

# ---- Panel 3: IMF Bz and SYM-H ----
ax = axs[2]
tw = twin(ax)
style_x(ax)
shade(ax)
t, v = split(BZ)
ax.plot(tt(t), v, color=BLUE, lw=1.5, zorder=3)
t, v = split(SYMH)
tw.plot(tt(t), v, color=RED, lw=1.6, zorder=3)
ssc(tw)
ax.set_ylim(-30, 35)
tw.set_ylim(-200, 50)
style_y(ax, BLUE, 'left', 20)
ax.set_yticks([-30, -10, 10, 30])
style_y(tw, RED, 'right', 50, 10)
ax.grid(True, axis='y', which='major', color=BLUE, lw=1.4, alpha=0.12)
ax.set_ylabel('IMF BZ (nT)', color=BLUE, fontsize=LAB_FS)
tw.set_ylabel('SYM-H (nT)', color=RED, fontsize=LAB_FS)
ax.yaxis.set_label_coords(-0.063, 0.5)
tw.yaxis.set_label_coords(1.077, 0.5)

# ---- Panel 4: Dst ----
ax = axs[3]
style_x(ax)
shade(ax)
t, v = split(DST)
ax.plot(tt(t), v, color=MAG, lw=1.9, zorder=3)
ssc(ax)
ax.set_ylim(-180, 40)
ax.set_yticks([-150, -100, -50, 0])
ax.yaxis.set_minor_locator(MultipleLocator(10))
ax.tick_params(axis='y', which='both', direction='in', colors='black', left=True, right=True,
               labelsize=TICK_FS, pad=6)
ax.tick_params(axis='y', which='major', length=7, width=1.8)
ax.tick_params(axis='y', which='minor', length=4, width=1.5)
for s in ax.spines.values():
    s.set_linewidth(SPW)
    s.set_color('black')
ax.grid(True, axis='y', which='major', color='#999999', lw=1.4, alpha=0.3)
ax.set_ylabel('Dst (nT)', color='black', fontsize=LAB_FS)
ax.yaxis.set_label_coords(-0.074, 0.5)
ann = dict(fontsize=11, fontweight='bold', va='center')
ax.text(tt(3.47), -137, 'SSC1', color=MAG, ha='right', **ann)
ax.text(tt(4.33), -137, 'SSC2', color=MAG, ha='right', **ann)
ax.text(tt(3.53), -88, 'MP1', color='black', ha='left', **ann)
ax.text(tt(4.405), 8, 'MP2', color='black', ha='left', **ann)

# ---- Panel 5: Kp ----
ax = axs[4]
style_x(ax, labels=True)
shade(ax)
kp_hourly = np.repeat(KP, 3)
hours = np.arange(kp_hourly.size) / 24.0
ax.bar(tt(hours), kp_hourly, width=0.7 / 24, color=KPBLUE, lw=0, zorder=3, align='center')
ssc(ax)
ax.set_ylim(0, 8)
ax.yaxis.set_major_locator(MultipleLocator(2))
ax.yaxis.set_minor_locator(MultipleLocator(0.5))
ax.tick_params(axis='y', which='both', direction='in', colors='black', left=True, right=True,
               labelsize=TICK_FS, pad=6)
ax.tick_params(axis='y', which='major', length=7, width=1.8)
ax.tick_params(axis='y', which='minor', length=4, width=1.5)
for s in ax.spines.values():
    s.set_linewidth(SPW)
    s.set_color('black')
ax.grid(True, axis='y', which='major', color='#999999', lw=1.4, alpha=0.3)
ax.set_ylabel('Kp Index', color='black', fontsize=LAB_FS)
ax.yaxis.set_label_coords(-0.032, 0.5)

fig.savefig('out.png', dpi=300, facecolor='white')
